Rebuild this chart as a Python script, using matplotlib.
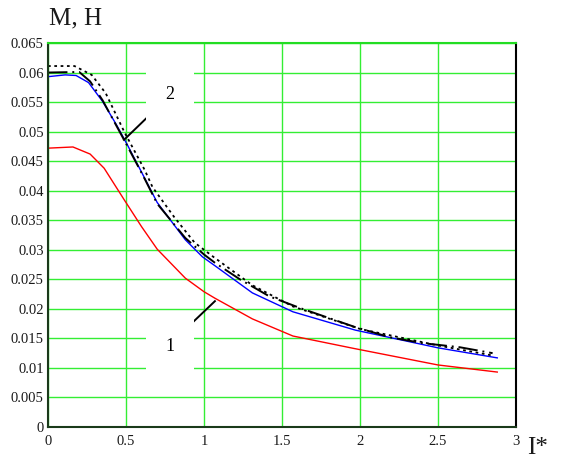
import matplotlib
matplotlib.use("Agg")
import matplotlib.pyplot as plt

# curve 1 (red)
x_red = [0.0, 0.16, 0.27, 0.36, 0.49, 0.60, 0.70, 0.88, 1.00, 1.07, 1.31, 1.57, 1.96, 2.50, 2.88]
y_red = [0.0472, 0.0474, 0.0462, 0.0438, 0.0384, 0.0339, 0.0301, 0.0252, 0.0229, 0.0218, 0.0183, 0.0154, 0.0133, 0.0105, 0.0093]

# curve 2 group
x_blue = [0.0, 0.11, 0.18, 0.26, 0.35, 0.44, 0.51, 0.62, 0.70, 0.88, 0.99, 1.07, 1.31, 1.57, 1.97, 2.50, 2.88]
y_blue = [0.0593, 0.0596, 0.0595, 0.0583, 0.0551, 0.0511, 0.0477, 0.0421, 0.0380, 0.0317, 0.0288, 0.0273, 0.0227, 0.0195, 0.0164, 0.0134, 0.0117]

x_dashdot = [0.0, 0.20, 0.27, 0.35, 0.50, 0.62, 0.70, 0.88, 1.00, 1.07, 1.23, 1.42, 1.62, 1.97, 2.19, 2.40, 2.64, 2.85]
y_dashdot = [0.0600, 0.0601, 0.0585, 0.0553, 0.0480, 0.0420, 0.0378, 0.0320, 0.0292, 0.0278, 0.0250, 0.0221, 0.0201, 0.0169, 0.0152, 0.0142, 0.0135, 0.0125]

x_dot = [0.0, 0.17, 0.28, 0.37, 0.49, 0.62, 0.67, 0.81, 0.94, 1.06, 1.31, 1.57, 2.00, 2.50, 2.85]
y_dot = [0.0611, 0.0611, 0.0596, 0.0565, 0.0499, 0.0435, 0.0406, 0.0355, 0.0312, 0.0288, 0.0240, 0.0204, 0.0166, 0.0138, 0.0121]

x_ticks = [0, 0.5, 1, 1.5, 2, 2.5, 3]
x_ticklabels = ["0", "0.5", "1", "1.5", "2", "2.5", "3"]
y_ticks = [0, 0.005, 0.01, 0.015, 0.02, 0.025, 0.03, 0.035, 0.04, 0.045, 0.05, 0.055, 0.06, 0.065]
y_ticklabels = ["0", "0.005", "0.01", "0.015", "0.02", "0.025", "0.03", "0.035", "0.04", "0.045", "0.05", "0.055", "0.06", "0.065"]

plt.rcParams['font.family'] = ['Liberation Serif', 'DejaVu Serif']

fig = plt.figure(figsize=(5.61, 4.61), dpi=100)
ax = fig.add_axes([48/561, 1-427/461, (516-48)/561, (427-43)/461])

ax.set_xlim(0, 3)
ax.set_ylim(0, 0.065)
ax.set_xticks(x_ticks)
ax.set_xticklabels(x_ticklabels)
ax.set_yticks(y_ticks)
ax.set_yticklabels(y_ticklabels)
ax.tick_params(length=0, labelsize=10.5, colors='#1a1a1a')
ax.tick_params(axis='x', pad=6)
ax.tick_params(axis='y', pad=3)
ax.grid(True, color='#33ee33', linewidth=1.0)
ax.set_axisbelow(True)

ax.spines['left'].set_color('#1a3a1a')
ax.spines['bottom'].set_color('#1a3a1a')
ax.spines['top'].set_color('#22dd22')
ax.spines['right'].set_color('black')
for s in ax.spines.values():
    s.set_linewidth(1.5)

ax.plot(x_red, y_red, color='red', lw=1.0)
ax.plot(x_blue, y_blue, color='blue', lw=1.0)
ax.plot(x_dashdot, y_dashdot, color='black', lw=1.4, linestyle=(0, (10, 2.5, 1, 2.5)))
ax.plot(x_dot, y_dot, color='black', lw=1.3, linestyle=(0, (1.5, 2.0)))

# leader lines
ax.plot([0.628, 0.487], [0.0522, 0.0486], color='black', lw=1.4)
ax.plot([0.923, 1.07], [0.0176, 0.0213], color='black', lw=1.4)

ax.text(0.782, 0.0562, "2", fontsize=13, ha='center', va='center',
        bbox=dict(boxstyle='square,pad=1.1', facecolor='white', edgecolor='none'))
ax.text(0.782, 0.0136, "1", fontsize=13, ha='center', va='center',
        bbox=dict(boxstyle='square,pad=1.1', facecolor='white', edgecolor='none'))

fig.text(49/561, 1-18/461, "M, H", fontsize=18, ha='left', va='center', color='#1a1a1a')
fig.text(527/561, 2/461, "I*", fontsize=18, ha='left', va='bottom', color='#1a1a1a')

fig.savefig("out.png", dpi=100)
